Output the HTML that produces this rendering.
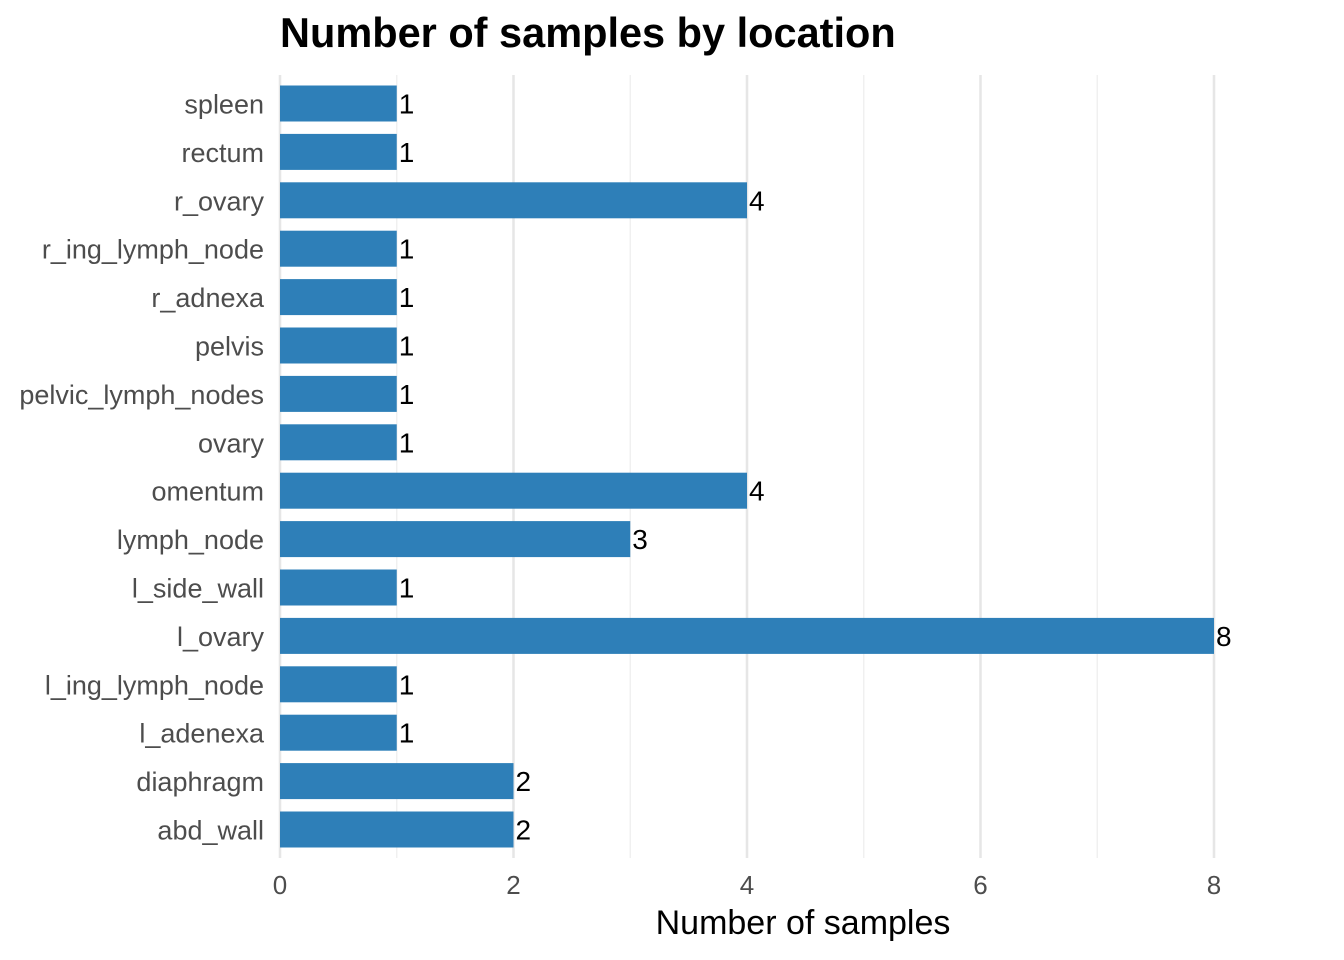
<!DOCTYPE html>
<html><head><meta charset="utf-8"><style>
body{margin:0;background:#fff;}
svg{display:block;font-family:"Liberation Sans",Arial,sans-serif;}
</style></head><body>
<svg id="chart" width="1344" height="960">
<text x="280" y="47" font-size="41.5" font-weight="bold" fill="#000">Number of samples by location</text>
<g id="grid"></g><g id="bars"></g><g id="labels"></g><g id="ticks"></g>
<text x="803" y="934" font-size="34" text-anchor="middle" fill="#000">Number of samples</text>
</svg>
<script>
const categories=["spleen","rectum","r_ovary","r_ing_lymph_node","r_adnexa","pelvis","pelvic_lymph_nodes","ovary","omentum","lymph_node","l_side_wall","l_ovary","l_ing_lymph_node","l_adenexa","diaphragm","abd_wall"];
const counts=[1,1,4,1,1,1,1,1,4,3,1,8,1,1,2,2];
const xTicks=[0,2,4,6,8];
const NS="http://www.w3.org/2000/svg";
const x0=280,unit=116.75,plotTop=75,plotBottom=858,y0=103.5,step=48.4,bh=36;
const xs=v=>x0+v*unit;
const ys=i=>y0+i*step;
function mk(tag,attrs,parent){const e=document.createElementNS(NS,tag);for(const k in attrs)e.setAttribute(k,attrs[k]);parent.appendChild(e);return e;}
const grid=document.getElementById('grid'),bars=document.getElementById('bars'),labels=document.getElementById('labels'),ticks=document.getElementById('ticks');
for(let v=0;v<=8;v++){
  const l=mk('line',{x1:xs(v),x2:xs(v),y1:plotTop,y2:plotBottom,stroke:v%2?'#f0f0f0':'#e6e6e6','stroke-width':v%2?1.5:2.5},grid);
  
  
}
xTicks.forEach(t=>{
  const e=mk('text',{x:xs(t),y:894,'font-size':26,'text-anchor':'middle',fill:'#4d4d4d'},ticks);
  e.textContent=t;
  
  
});
categories.forEach((c,i)=>{
  const y=ys(i);
  const r=mk('rect',{x:xs(0),y:y-bh/2,width:xs(counts[i])-xs(0),height:bh,fill:'#2e7fb8'},bars);
  
  
  const t=mk('text',{x:264,y:y+10,'font-size':27,'text-anchor':'end',fill:'#4d4d4d'},labels);
  t.textContent=c;
  
  
  const v=mk('text',{x:xs(counts[i])+2,y:y+10,'font-size':28,fill:'#000'},labels);
  v.textContent=counts[i];
  
  
});
</script>
</body></html>
